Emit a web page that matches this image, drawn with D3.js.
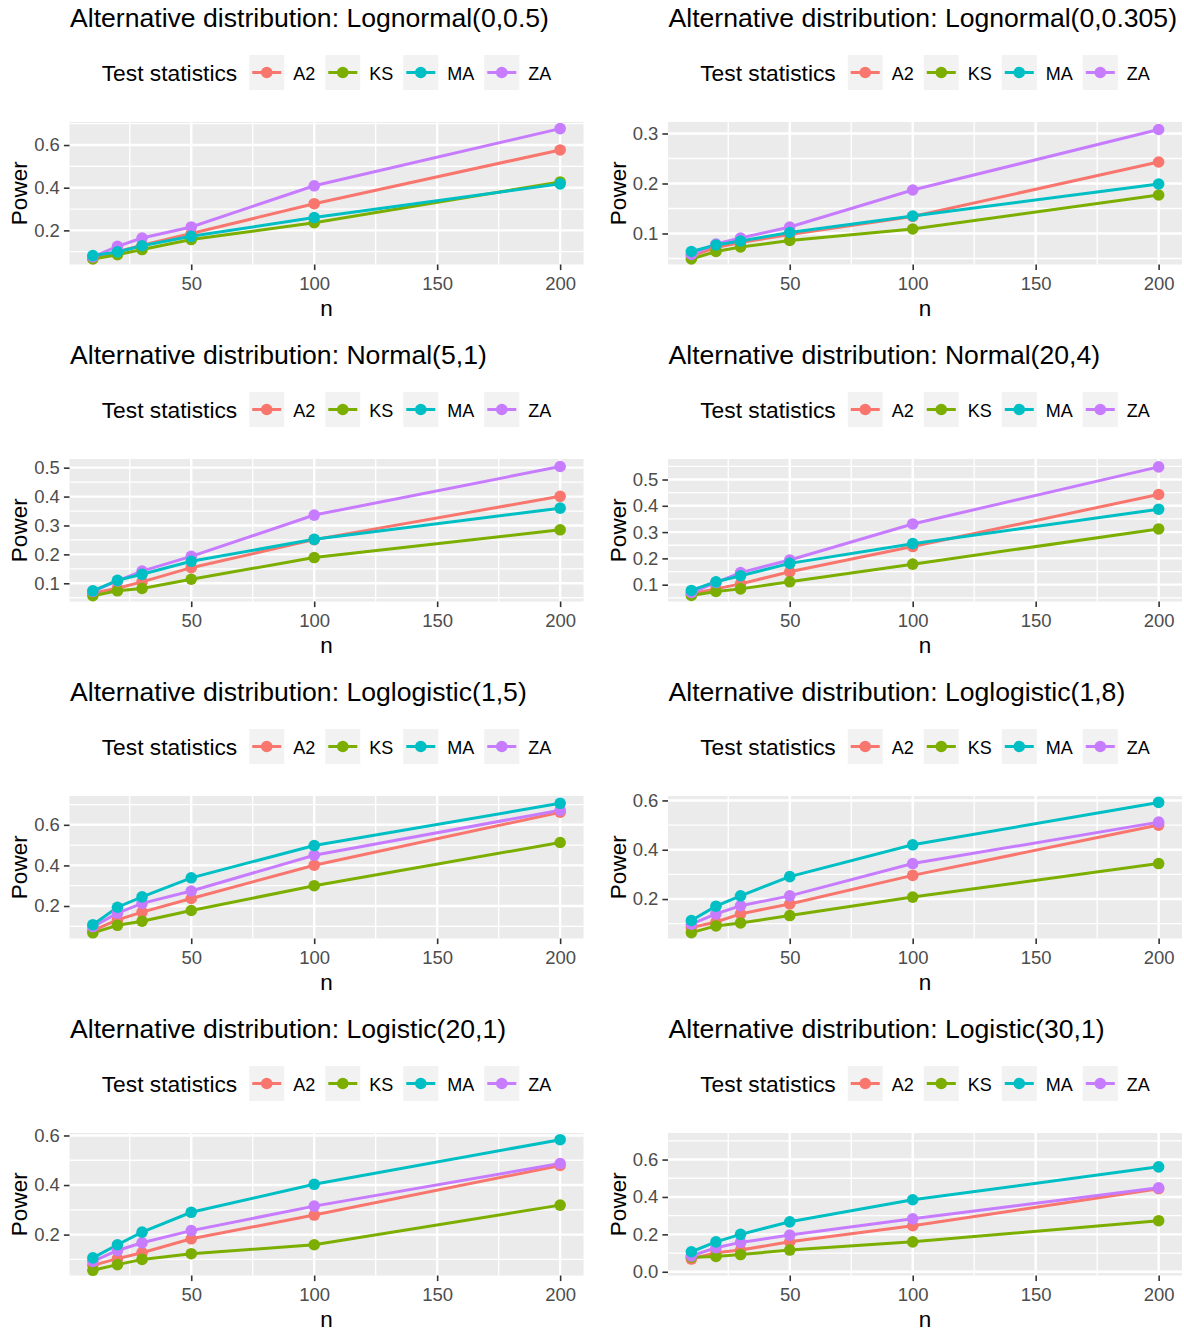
<!DOCTYPE html>
<html>
<head>
<meta charset="utf-8">
<script src="https://cdn.jsdelivr.net/npm/d3@7"></script>
<style>
    body { margin: 0; background: #fff; }
    text { font-family: "Liberation Sans", Arial, sans-serif; }
</style>
</head>
<body>
<svg id="chart" width="1184" height="1333"></svg>
<script>
// sample sizes and statistics
const nValues = [10, 20, 30, 50, 100, 200];
const statNames = ["A2", "KS", "MA", "ZA"];
const statColors = ["#F8766D", "#7CAE00", "#00BFC4", "#C77CFF"];

const panelTitles = [
    "Alternative distribution: Lognormal(0,0.5)",
    "Alternative distribution: Lognormal(0,0.305)",
    "Alternative distribution: Normal(5,1)",
    "Alternative distribution: Normal(20,4)",
    "Alternative distribution: Loglogistic(1,5)",
    "Alternative distribution: Loglogistic(1,8)",
    "Alternative distribution: Logistic(20,1)",
    "Alternative distribution: Logistic(30,1)"
];

// power values, one row per statistic (A2, KS, MA, ZA), columns follow nValues
const powerLognormal05 = [
    [0.070, 0.100, 0.130, 0.185, 0.325, 0.577],
    [0.066, 0.086, 0.110, 0.157, 0.236, 0.427],
    [0.082, 0.099, 0.128, 0.172, 0.260, 0.418],
    [0.076, 0.125, 0.164, 0.216, 0.409, 0.677]
];
const powerLognormal0305 = [
    [0.055, 0.072, 0.082, 0.098, 0.134, 0.243],
    [0.049, 0.064, 0.073, 0.086, 0.109, 0.177],
    [0.064, 0.077, 0.085, 0.102, 0.135, 0.199],
    [0.058, 0.079, 0.091, 0.113, 0.187, 0.308]
];
const powerNormal51 = [
    [0.066, 0.083, 0.105, 0.154, 0.251, 0.401],
    [0.057, 0.074, 0.082, 0.114, 0.189, 0.285],
    [0.074, 0.110, 0.131, 0.176, 0.252, 0.360],
    [0.072, 0.108, 0.142, 0.193, 0.336, 0.504]
];
const powerNormal204 = [
    [0.066, 0.084, 0.103, 0.149, 0.245, 0.443],
    [0.059, 0.074, 0.084, 0.111, 0.178, 0.312],
    [0.078, 0.111, 0.134, 0.181, 0.256, 0.387],
    [0.070, 0.108, 0.146, 0.194, 0.331, 0.548]
];
const powerLoglogistic15 = [
    [0.079, 0.132, 0.170, 0.237, 0.401, 0.662],
    [0.068, 0.105, 0.125, 0.178, 0.300, 0.513],
    [0.108, 0.194, 0.245, 0.339, 0.498, 0.706],
    [0.098, 0.165, 0.213, 0.274, 0.450, 0.672]
];
const powerLoglogistic18 = [
    [0.084, 0.107, 0.140, 0.180, 0.296, 0.500],
    [0.064, 0.091, 0.103, 0.133, 0.208, 0.344],
    [0.113, 0.171, 0.213, 0.291, 0.420, 0.592],
    [0.098, 0.140, 0.173, 0.213, 0.344, 0.512]
];
const powerLogistic201 = [
    [0.076, 0.103, 0.127, 0.183, 0.279, 0.479],
    [0.056, 0.079, 0.100, 0.123, 0.159, 0.319],
    [0.106, 0.159, 0.210, 0.290, 0.403, 0.583],
    [0.092, 0.136, 0.167, 0.216, 0.315, 0.487]
];
const powerLogistic301 = [
    [0.068, 0.102, 0.116, 0.160, 0.246, 0.444],
    [0.078, 0.082, 0.092, 0.116, 0.160, 0.273],
    [0.107, 0.160, 0.200, 0.267, 0.385, 0.561],
    [0.085, 0.128, 0.157, 0.196, 0.283, 0.449]
];

const panelPower = [powerLognormal05, powerLognormal0305, powerNormal51, powerNormal204,
    powerLoglogistic15, powerLoglogistic18, powerLogistic201, powerLogistic301];

// y ranges and breaks
const yDomains = [[0.04, 0.708], [0.038, 0.323], [0.037, 0.53], [0.036, 0.578],
    [0.04, 0.742], [0.04, 0.618], [0.035, 0.61], [-0.02, 0.742]];
const yTicks = [[0.2, 0.4, 0.6], [0.1, 0.2, 0.3], [0.1, 0.2, 0.3, 0.4, 0.5], [0.1, 0.2, 0.3, 0.4, 0.5],
    [0.2, 0.4, 0.6], [0.2, 0.4, 0.6], [0.2, 0.4, 0.6], [0.0, 0.2, 0.4, 0.6]];
const xTicks = [50, 100, 150, 200];
const xMinor = [25, 75, 125, 175];

const svg = d3.select("#chart");

const cellX = [0, 598.5];
const cellY = [0, 337, 674, 1011];
const plot = { left: 69.5, right: 583.5, top: 122, bottom: 264.5 };

//draw order: MA ends on top
const drawOrder = [0, 1, 3, 2];

function minorBreaks(ticks) {
    const step = ticks[1] - ticks[0];
    const out = [];
    for (let i = -1; i < ticks.length; i++) {
        out.push(+(ticks[0] + step * i + step / 2).toFixed(4));
    }
    return out;
}

function drawPanel(idx) {
    const g = svg.append("g")
        .attr("transform", `translate(${cellX[idx % 2]},${cellY[Math.floor(idx / 2)]})`);
    const power = panelPower[idx];

    const x = d3.scaleLinear().domain([0.5, 209.5]).range([plot.left, plot.right]);
    const y = d3.scaleLinear().domain(yDomains[idx]).range([plot.bottom, plot.top]);

    //panel background
    g.append("rect")
        .attr("x", plot.left).attr("y", plot.top)
        .attr("width", plot.right - plot.left).attr("height", plot.bottom - plot.top)
        .attr("fill", "#EBEBEB");

    //grid
    const yMin = minorBreaks(yTicks[idx]).filter(v => v > yDomains[idx][0] && v < yDomains[idx][1]);
    const grid = g.append("g");
    grid.selectAll("line.ymin").data(yMin).enter().append("line")
        .attr("x1", plot.left).attr("x2", plot.right)
        .attr("y1", d => y(d)).attr("y2", d => y(d))
        .attr("stroke", "#fff").attr("stroke-width", 1.3);
    grid.selectAll("line.xmin").data(xMinor).enter().append("line")
        .attr("y1", plot.top).attr("y2", plot.bottom)
        .attr("x1", d => x(d)).attr("x2", d => x(d))
        .attr("stroke", "#fff").attr("stroke-width", 1.3);
    grid.selectAll("line.ymaj").data(yTicks[idx]).enter().append("line")
        .attr("x1", plot.left).attr("x2", plot.right)
        .attr("y1", d => y(d)).attr("y2", d => y(d))
        .attr("stroke", "#fff").attr("stroke-width", 2.4);
    grid.selectAll("line.xmaj").data(xTicks).enter().append("line")
        .attr("y1", plot.top).attr("y2", plot.bottom)
        .attr("x1", d => x(d)).attr("x2", d => x(d))
        .attr("stroke", "#fff").attr("stroke-width", 2.4);

    //axes
    const xAxis = g.append("g")
        .attr("transform", `translate(0,${plot.bottom})`)
        .call(d3.axisBottom(x).tickValues(xTicks).tickSize(5.6).tickPadding(7).tickFormat(d3.format("d")));
    const yAxis = g.append("g")
        .attr("transform", `translate(${plot.left},0)`)
        .call(d3.axisLeft(y).tickValues(yTicks[idx]).tickSize(5.6).tickPadding(4)
            .tickFormat(d3.format(".1f")));
    [xAxis, yAxis].forEach(a => {
        a.select(".domain").remove();
        a.selectAll(".tick line").attr("stroke", "#333333").attr("stroke-width", 1.6);
        a.selectAll(".tick text")
            .attr("fill", "#4D4D4D")
            .style("font-size", "18.5px")
            .style("font-family", "'Liberation Sans', Arial, sans-serif");
    });

    //lines then points
    const line = d3.line()
        .x((d, i) => x(nValues[i]))
        .y(d => y(d));

    drawOrder.forEach(s => {
        g.append("path")
            .datum(power[s])
            .attr("fill", "none")
            .attr("stroke", statColors[s])
            .attr("stroke-width", 3)
            .attr("d", line);
    });
    drawOrder.forEach(s => {
        g.selectAll(null)
            .data(power[s])
            .enter()
            .append("circle")
            .attr("cx", (d, i) => x(nValues[i]))
            .attr("cy", d => y(d))
            .attr("r", 5.8)
            .attr("fill", statColors[s]);
    });

    //axis titles
    g.append("text")
        .attr("x", (plot.left + plot.right) / 2)
        .attr("y", 316)
        .attr("text-anchor", "middle")
        .style("font-size", "22.5px")
        .text("n");

    g.append("text")
        .attr("transform", "rotate(-90)")
        .attr("x", -(plot.top + plot.bottom) / 2)
        .attr("y", 27)
        .attr("text-anchor", "middle")
        .style("font-size", "22.5px")
        .text("Power");

    //title
    g.append("text")
        .attr("x", 70)
        .attr("y", 27)
        .style("font-size", "26.6px")
        .text(panelTitles[idx]);

    //legend
    const legend = g.append("g");
    const legTitle = legend.append("text")
        .attr("x", 0).attr("y", 81)
        .style("font-size", "22.8px")
        .text("Test statistics");
    let cursor = legTitle.node().getComputedTextLength() + 12;
    statNames.forEach((name, s) => {
        legend.append("rect")
            .attr("x", cursor).attr("y", 55)
            .attr("width", 35).attr("height", 35)
            .attr("fill", "#F2F2F2");
        legend.append("line")
            .attr("x1", cursor + 3).attr("x2", cursor + 32)
            .attr("y1", 72.5).attr("y2", 72.5)
            .attr("stroke", statColors[s]).attr("stroke-width", 3);
        legend.append("circle")
            .attr("cx", cursor + 17.5).attr("cy", 72.5)
            .attr("r", 5.8)
            .attr("fill", statColors[s]);
        const lab = legend.append("text")
            .attr("x", cursor + 35 + 9).attr("y", 80)
            .style("font-size", "18px")
            .text(name);
        cursor += 35 + 9 + lab.node().getComputedTextLength() + 10;
    });
    const legWidth = cursor - 10;
    legend.attr("transform", `translate(${(plot.left + plot.right) / 2 - legWidth / 2},0)`);
}

panelTitles.forEach((t, i) => drawPanel(i));
</script>
</body>
</html>
